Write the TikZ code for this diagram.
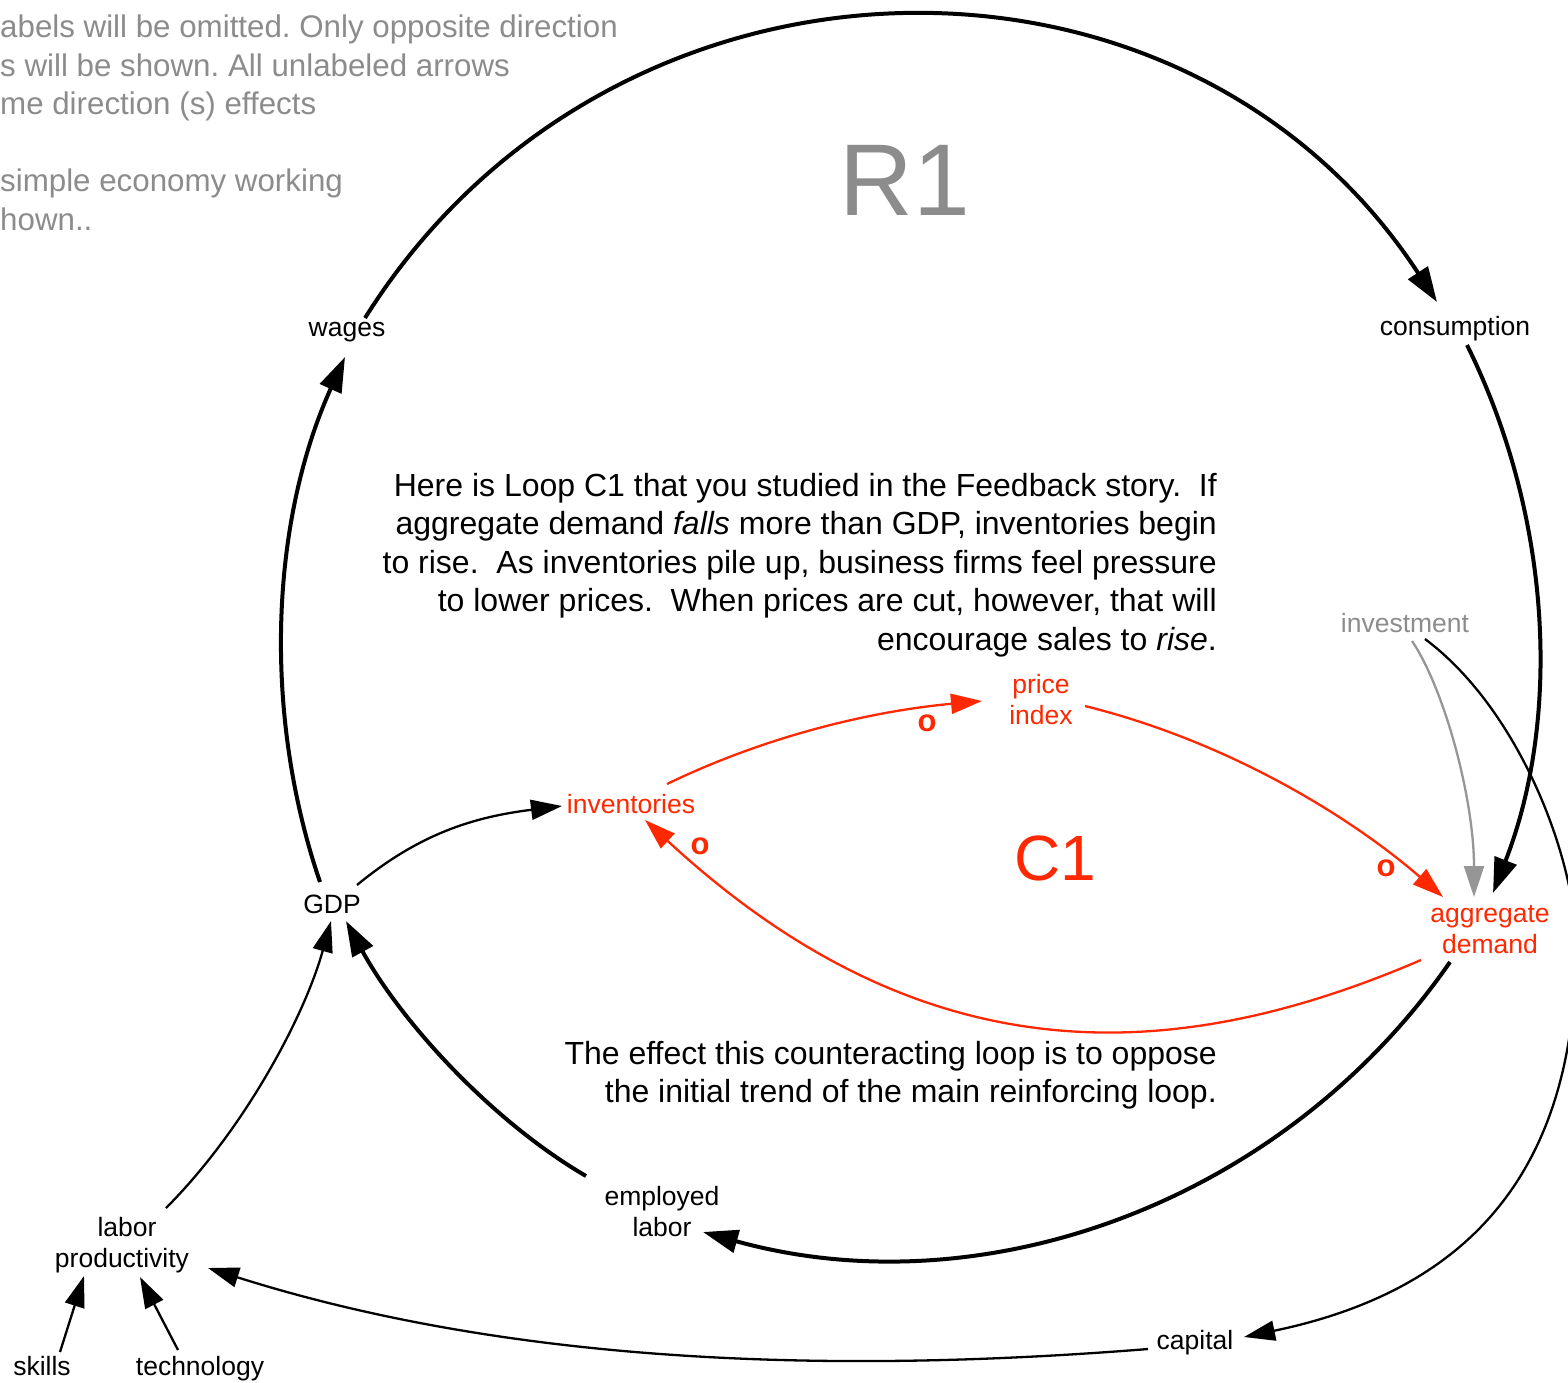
\documentclass[tikz,border=0pt]{standalone}
\usepackage{fontspec}
\setmainfont{Liberation Sans}
\usetikzlibrary{arrows.meta}
\definecolor{loopred}{RGB}{255,40,0}
\definecolor{notegray}{RGB}{140,140,140}
\definecolor{linkgray}{RGB}{150,150,150}
\frenchspacing
\begin{document}
\begin{tikzpicture}[x=1pt,y=-1pt,
  var/.style={font=\fontsize{26.5}{31}\selectfont, inner sep=4pt, text height=19.3pt, text depth=5.6pt},
  var2/.style={font=\fontsize{26.5}{31}\selectfont, inner sep=4pt, align=center},
  redvar/.style={text=loopred},
  note/.style={font=\fontsize{32}{38.5}\selectfont, inner sep=0pt},
  pol/.style={font=\fontsize{31}{32}\selectfont\bfseries, text=loopred, inner sep=0pt},
  bold link/.style={line width=4pt, -{Triangle[length=35pt,width=23pt]}},
  fine link/.style={line width=2.3pt, -{Triangle[length=31pt,width=20pt]}},
  red link/.style={fine link, draw=loopred},
  gray link/.style={fine link, draw=linkgray}
]
\clip (0,0) rectangle (1568,1382);
\fill[white] (0,0) rectangle (1568,1382);

% ---- variables ----
\node[var] (wages) at (347,330) {wages};
\node[var] (cons) at (1455,329) {consumption};
\node[var] (gdp) at (332,907) {GDP};
\node[var, redvar] (inv) at (631,807) {inventories};
\node[var2, redvar] (price) at (1041,700) {price\\index};
\node[var2, redvar] (agg) at (1490,929.5) {aggregate\\demand};
\node[var, text=notegray] (invest) at (1405,626) {investment};
\node[var2] (emp) at (662,1211.5) {employed\\labor};
\node[var2] (labprod) at (122,1245) {\hspace*{10pt}labor\\productivity};
\node[var] (skills) at (42,1369) {skills};
\node[var] (tech) at (200,1369) {technology};
\node[var] (capital) at (1195,1343) {capital};

% ---- loop names ----
\node[font=\fontsize{102}{106}\selectfont, text=notegray, anchor=base, inner sep=0pt] (rone) at (905,215) {R1};
\node[font=\fontsize{64}{66}\selectfont, text=loopred, anchor=base, inner sep=0pt] (cone) at (1055,880) {C1};

% ---- notes ----
\node[note, font=\fontsize{31.3}{38.5}\selectfont, anchor=north west, align=left, text=notegray] (legend) at (0,15)
  {abels will be omitted. Only opposite direction\\
   s will be shown. All unlabeled arrows\\
   me direction (s) effects\\[38.5pt]
   simple economy working\\
   hown..};
\node[note, anchor=north east, align=right] (loopnote) at (1217,472.7)
  {Here is Loop C1 that you studied in the Feedback story.\ \ If\\
   aggregate demand \textit{falls} more than GDP, inventories begin\\
   to rise.\ \ As inventories pile up, business firms feel pressure\\
   to lower prices.\ \ When prices are cut, however, that will\\
   encourage sales to \textit{rise}.};
\node[note, anchor=north east, align=right] (effectnote) at (1217,1040.7)
  {The effect this counteracting loop is to oppose\\
   the initial trend of the main reinforcing loop.};

% ---- polarity marks ----
\node[pol] (pol1) at (927,723) {o};
\node[pol] (pol2) at (700,846) {o};
\node[pol] (pol3) at (1386,868) {o};

% ---- main reinforcing loop R1 ----
\draw[bold link] ([shift={(18,-12)}]wages.center) .. controls (612,-76) and (1183.8,-86) .. ([shift={(-18,-27)}]cons.center);
\draw[bold link] ([shift={(12,16)}]cons.center) .. controls (1551,514.7) and (1562,715.8) .. ([shift={(3,-36.5)}]agg.center);
\draw[bold link] ([shift={(-40,32.5)}]agg.center) .. controls (1284.1,1201.7) and (984.3,1310.1) .. ([shift={(41,20.5)}]emp.center);
\draw[bold link] ([shift={(-76,-35.5)}]emp.center) .. controls (490,1120) and (400,1020) .. ([shift={(14,14)}]gdp.center);
\draw[bold link] ([shift={(-12,-25)}]gdp.center) .. controls (262,712) and (271,520.7) .. ([shift={(-2,27)}]wages.center);

% ---- counteracting loop C1 ----
\draw[red link] ([shift={(36,-23)}]inv.center) .. controls (766,736) and (872,711) .. ([shift={(-59,1)}]price.center);
\draw[red link] ([shift={(44,6)}]price.center) .. controls (1230,742) and (1352,818) .. ([shift={(-47,-32.5)}]agg.center);
\draw[red link] ([shift={(-69,30.5)}]agg.center) .. controls (1170,1068) and (922,1076) .. ([shift={(14,13)}]inv.center);

% ---- other links ----
\draw[fine link] ([shift={(25,-22)}]gdp.center) .. controls (419,834) and (473,817) .. ([shift={(-69,-1)}]inv.center);
\draw[fine link] ([shift={(44,-37)}]labprod.center) .. controls (243,1131) and (304,1018) .. ([shift={(-1,14)}]gdp.center);
\draw[fine link] ([shift={(-47,6)}]capital.center) .. controls (848,1373) and (521,1367) .. ([shift={(86,23)}]labprod.center);
\coordinate (investbend) at (1576,946);
\draw[fine link] ([shift={(20,13)}]invest.center) .. controls (1520,710) and (1576,860) .. (investbend)
  .. controls (1576,1170) and (1470,1290) .. ([shift={(49,-6)}]capital.center);
\draw[gray link] ([shift={(7,15)}]invest.center) .. controls (1445,690) and (1474,800) .. ([shift={(-16,-32.5)}]agg.center);
\draw[fine link] ([shift={(18,-17)}]skills.center) -- ([shift={(-38,31)}]labprod.center);
\draw[fine link] ([shift={(-22,-19)}]tech.center) -- ([shift={(18,32)}]labprod.center);
\end{tikzpicture}
\end{document}
